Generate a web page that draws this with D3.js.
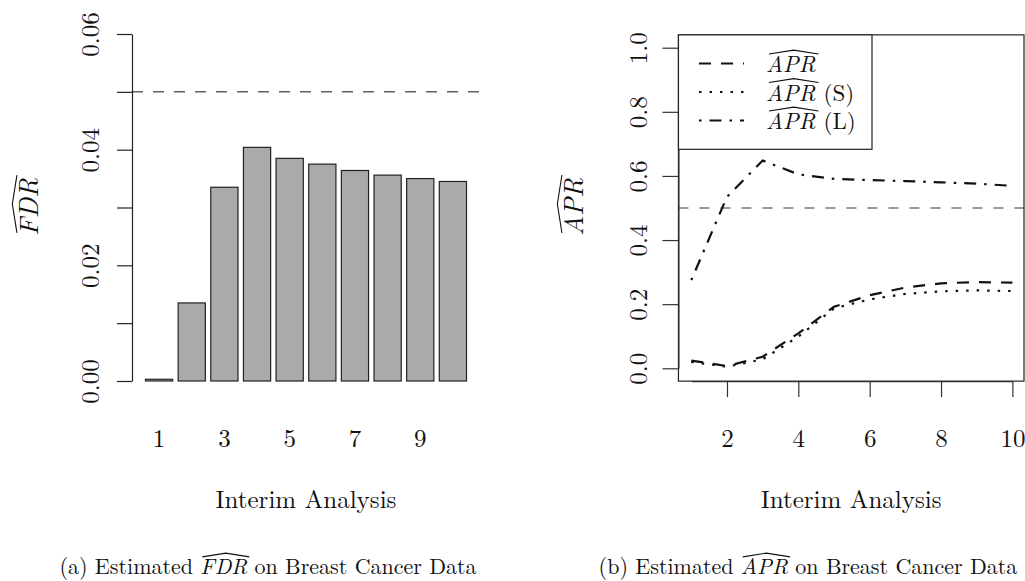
<!DOCTYPE html>
<html>
<head>
<meta charset="utf-8">
<script src="https://cdn.jsdelivr.net/npm/d3@7.9.0/dist/d3.min.js"></script>
<style>
  html, body { margin: 0; padding: 0; background: #fff; }
  svg { display: block; }
  svg text {
    font-family: "Latin Modern Roman", "CMU Serif", "Liberation Serif", "Tinos", "Times New Roman", Times,
      "DejaVu Serif", "Noto Serif", "FreeSerif", serif;
    fill: #111;
  }
</style>
</head>
<body>
<svg id="chart" width="1025" height="581"></svg>
<script>
// values
const interim = [1, 2, 3, 4, 5, 6, 7, 8, 9, 10];
const fdr = [0.0003, 0.0135, 0.0335, 0.0404, 0.0385, 0.0375, 0.0364, 0.0356, 0.0350, 0.0345];
const fdrTicks = [0, 0.01, 0.02, 0.03, 0.04, 0.05, 0.06];
const fdrLabelled = [0, 0.02, 0.04, 0.06];
const fdrTarget = 0.05;
const fdrXLabels = [1, 3, 5, 7, 9];

const apr = [0.024, 0.007, 0.036, 0.109, 0.192, 0.228, 0.252, 0.265, 0.269, 0.267];
const aprS = [0.020, 0.005, 0.028, 0.099, 0.187, 0.215, 0.232, 0.240, 0.243, 0.241];
const aprL = [0.275, 0.535, 0.648, 0.605, 0.591, 0.587, 0.584, 0.580, 0.576, 0.569];
const aprTicks = [0, 0.2, 0.4, 0.6, 0.8, 1.0];
const aprXTicks = [2, 4, 6, 8, 10];
const aprTarget = 0.5;

const svg = d3.select('#chart');
const baseSize = 25;
const xLabelBaseline = 447;
const xTitleBaseline = 508;
const captionBaseline = 574;

// wide hat drawn above a run of text, in the text's own coordinates
function addHat(g, x0, w, size) {
  const top = -size * 0.78;
  const h = size * 0.17;
  g.append('path')
    .attr('d', `M${x0},${top} L${x0 + w / 2},${top - h} L${x0 + w},${top}`)
    .attr('fill', 'none')
    .attr('stroke', '#111')
    .attr('stroke-width', 1.1);
}

// ---------- panel (a): bar chart ----------
const xA = d3.scaleBand().domain(interim).range([145, 466]).paddingInner(1 / 6).paddingOuter(0);
const yA = d3.scaleLinear().domain([0, 0.06]).range([381, 34]);
const plotA = [132, 480];

const gA = svg.append('g');

gA.append('line')
  .attr('x1', plotA[0]).attr('x2', plotA[1])
  .attr('y1', yA(fdrTarget)).attr('y2', yA(fdrTarget))
  .attr('stroke', '#111').attr('stroke-width', 1)
  .attr('stroke-dasharray', '11,10');

gA.selectAll('rect.bar')
  .data(fdr)
  .join('rect')
  .attr('class', 'bar')
  .attr('x', (d, i) => xA(interim[i]) + 0.5)
  .attr('y', (d) => yA(d))
  .attr('width', xA.bandwidth())
  .attr('height', (d) => yA(0) - yA(d))
  .attr('fill', '#aaaaaa')
  .attr('stroke', '#222')
  .attr('stroke-width', 1.2);

const axA = gA.append('g')
  .attr('transform', `translate(${plotA[0]},0)`)
  .call(d3.axisLeft(yA).tickValues(fdrTicks).tickSize(15).tickSizeOuter(0)
    .tickFormat((d) => (fdrLabelled.some((v) => Math.abs(v - d) < 1e-9) ? d.toFixed(2) : '')));
axA.selectAll('path, line').attr('stroke', '#222').attr('stroke-width', 1.2);
axA.selectAll('text')
  .attr('font-size', baseSize)
  .attr('text-anchor', 'middle')
  .attr('transform', 'rotate(-90)')
  .attr('x', 0).attr('y', -33).attr('dy', 0);

const axAx = gA.append('g')
  .attr('transform', 'translate(0.5,381)')
  .call(d3.axisBottom(xA).tickValues(fdrXLabels).tickSize(0));
axAx.select('.domain').remove();
axAx.selectAll('text')
  .attr('font-size', baseSize)
  .attr('y', xLabelBaseline - 381).attr('dy', 0);

gA.append('text')
  .attr('x', (plotA[0] + plotA[1]) / 2).attr('y', xTitleBaseline)
  .attr('text-anchor', 'middle')
  .attr('font-size', baseSize)
  .text('Interim Analysis');

// y title with hat
{
  const g = gA.append('g').attr('transform', 'translate(38,207) rotate(-90)');
  const t = g.append('text').attr('font-size', 27).attr('font-style', 'italic')
    .attr('text-anchor', 'middle').text('FDR');
  const w = t.node().getComputedTextLength();
  addHat(g, -w / 2 + 3, w, 27);
}

// ---------- panel (b): line chart ----------
const xB = d3.scaleLinear().domain([1, 10]).range([691.3, 1012.4]);
const yB = d3.scaleLinear().domain([0, 1]).range([368.3, 47.7]);
const boxL = xB(0.64), boxR = 1024, boxT = yB(1.04), boxB = yB(-0.04);

const gB = svg.append('g');

gB.append('line')
  .attr('x1', boxL).attr('x2', boxR)
  .attr('y1', yB(aprTarget)).attr('y2', yB(aprTarget))
  .attr('stroke', '#7a7a7a').attr('stroke-width', 1.6)
  .attr('stroke-dasharray', '10,11');

const series = [
  { name: 'APR', suffix: '', values: apr, dash: '12,10' },
  { name: 'APR', suffix: '(S)', values: aprS, dash: '2.5,8' },
  { name: 'APR', suffix: '(L)', values: aprL, dash: '2.5,8,12,8' },
];

const line = d3.line().x((d, i) => xB(interim[i])).y((d) => yB(d));

gB.selectAll('path.series')
  .data(series)
  .join('path')
  .attr('class', 'series')
  .attr('d', (d) => line(d.values))
  .attr('fill', 'none')
  .attr('stroke', '#111')
  .attr('stroke-width', 2.2)
  .attr('stroke-dasharray', (d) => d.dash);

gB.append('rect')
  .attr('x', boxL).attr('y', boxT)
  .attr('width', boxR - boxL).attr('height', boxB - boxT)
  .attr('fill', 'none').attr('stroke', '#222').attr('stroke-width', 1.2);

const axB = gB.append('g')
  .attr('transform', `translate(${boxL},0)`)
  .call(d3.axisLeft(yB).tickValues(aprTicks).tickSize(16).tickSizeOuter(0).tickFormat(d3.format('.1f')));
axB.selectAll('path, line').attr('stroke', '#333').attr('stroke-width', 1.2);
axB.selectAll('text')
  .attr('font-size', baseSize)
  .attr('text-anchor', 'middle')
  .attr('transform', 'rotate(-90)')
  .attr('x', 0).attr('y', -31).attr('dy', 0);

const axBx = gB.append('g')
  .attr('transform', `translate(0,${boxB})`)
  .call(d3.axisBottom(xB).tickValues(aprXTicks).tickSize(16).tickSizeOuter(0));
axBx.selectAll('path, line').attr('stroke', '#333').attr('stroke-width', 1.2);
axBx.selectAll('text')
  .attr('font-size', baseSize)
  .attr('y', xLabelBaseline - boxB).attr('dy', 0);

gB.append('text')
  .attr('x', (boxL + boxR) / 2).attr('y', xTitleBaseline)
  .attr('text-anchor', 'middle')
  .attr('font-size', baseSize)
  .text('Interim Analysis');

{
  const g = gB.append('g').attr('transform', 'translate(583,207) rotate(-90)');
  const t = g.append('text').attr('font-size', 27).attr('font-style', 'italic')
    .attr('text-anchor', 'middle').text('APR');
  const w = t.node().getComputedTextLength();
  addHat(g, -w / 2 + 3, w, 27);
}

// legend
const legend = gB.append('g');
legend.append('rect')
  .attr('x', boxL).attr('y', boxT)
  .attr('width', 872 - boxL).attr('height', 149.3 - boxT)
  .attr('fill', '#fff').attr('stroke', '#222').attr('stroke-width', 1.2);

series.forEach((s, i) => {
  const cy = 63.5 + i * 28.5;
  legend.append('line')
    .attr('x1', 699).attr('x2', 744)
    .attr('y1', cy).attr('y2', cy)
    .attr('stroke', '#111').attr('stroke-width', 2.2)
    .attr('stroke-dasharray', s.dash);
  const g = legend.append('g').attr('transform', `translate(766,${cy + 8.5})`);
  const t = g.append('text').attr('font-size', 23).attr('font-style', 'italic').text(s.name);
  const w = t.node().getComputedTextLength();
  addHat(g, 3, w, 23);
  if (s.suffix) {
    g.append('text').attr('x', w + 8).attr('font-size', 23).text(s.suffix);
  }
});

// ---------- captions ----------
function caption(cx, tag, name, rest) {
  const size = 22;
  const g = svg.append('g');
  const parts = [
    { s: tag + ' Estimated', italic: false },
    { s: name, italic: true },
    { s: rest, italic: false },
  ];
  const texts = parts.map((p) => g.append('text')
    .attr('font-size', size)
    .attr('font-style', p.italic ? 'italic' : 'normal')
    .attr('y', captionBaseline)
    .text(p.s));
  const gap = size * 0.33;
  const widths = texts.map((t) => t.node().getComputedTextLength());
  const total = d3.sum(widths) + gap * 2;
  let x = cx - total / 2;
  texts.forEach((t, i) => {
    t.attr('x', x);
    if (i === 1) {
      const hg = g.append('g').attr('transform', `translate(${x},${captionBaseline})`);
      addHat(hg, 2, widths[i], size);
    }
    x += widths[i] + gap;
  });
}
caption(268, '(a)', 'FDR', 'on Breast Cancer Data');
caption(808, '(b)', 'APR', 'on Breast Cancer Data');
</script>
</body>
</html>
